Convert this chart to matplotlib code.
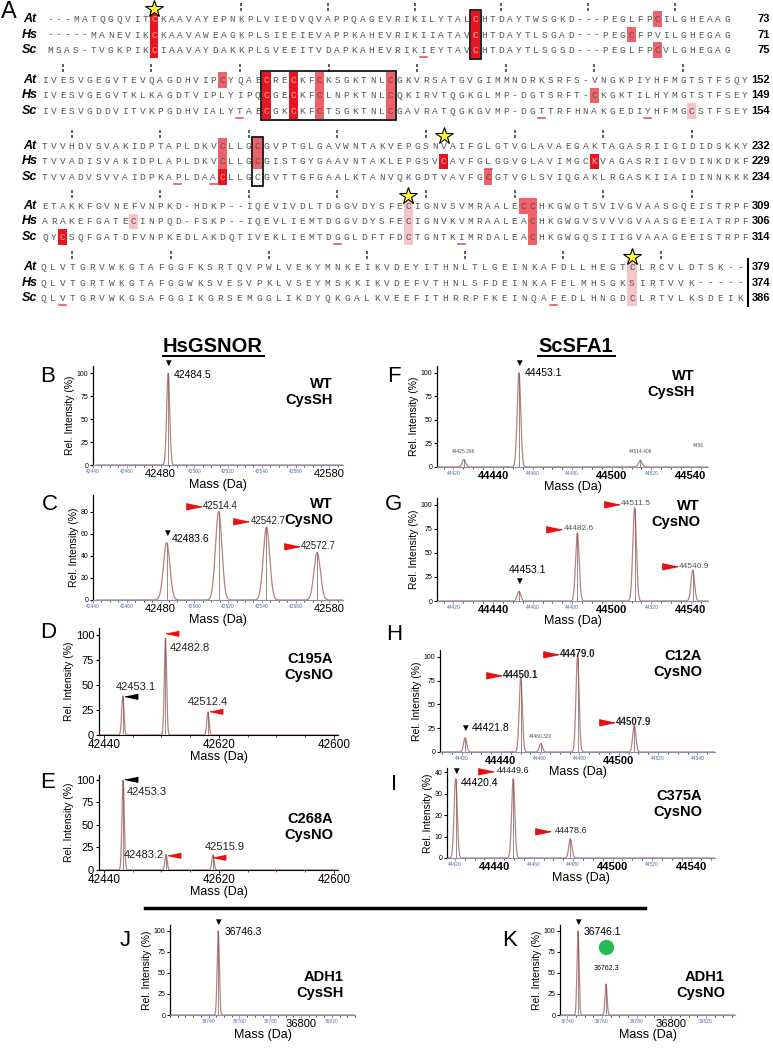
import numpy as np
import matplotlib
matplotlib.use('Agg')
import matplotlib.pyplot as plt
from matplotlib.ticker import MultipleLocator

plt.rcParams['font.family'] = ['Liberation Sans', 'DejaVu Sans']

# ---------------- panel A data: alignment ----------------
species = ['At', 'Hs', 'Sc']
align = [
    ['---MATQGQVITCKAAVAYEPNKPLVIEDVQVAPPQAGEVRIKILYTALCHTDAYTWSGKD---PEGLFPCILGHEAAG',
     '-----MANEVIKCKAAVAWEAGKPLSIEEIEVAPPKAHEVRIKIIATAVCHTDAYTLSGAD---PEGCFPVILGHEGAG',
     'MSAS-TVGKPIKCIAAVAYDAKKPLSVEEITVDAPKAHEVRIKIEYTAVCHTDAYTLSGSD---PEGLFPCVLGHEGAG'],
    ['IVESVGEGVTEVQAGDHVIPCYQAECRECKFCKSGKTNLCGKVRSATGVGIMMNDRKSRFS-VNGKPIYHFMGTSTFSQY',
     'IVESVGEGVTKLKAGDTVIPLYIPQCGECKFCLNPKTNLCQKIRVTQGKGLMP-DGTSRFT-CKGKTILHYMGTSTFSEY',
     'IVESVGDDVITVKPGDHVIALYTAECGKCKFCTSGKTNLCGAVRATQGKGVMP-DGTTRFHNAKGEDIYHFMGCSTFSEY'],
    ['TVVHDVSVAKIDPTAPLDKVCLLGCGVPTGLGAVWNTAKVEPGSNVAIFGLGTVGLAVAEGAKTAGASRIIGIDIDSKKY',
     'TVVADISVAKIDPLAPLDKVCLLGCGISTGYGAAVNTAKLEPGSVCAVFGLGGVGLAVIMGCKVAGASRIIGVDINKDKF',
     'TVVADVSVVAIDPKAPLDAACLLGCGVTTGFGAALKTANVQKGDTVAVFGCGTVGLSVIQGAKLRGASKIIAIDINNKKK'],
    ['ETAKKFGVNEFVNPKD-HDKP--IQEVIVDLTDGGVDYSFECIGNVSVMRAALECCHKGWGTSVIVGVAASGQEISTRPF',
     'ARAKEFGATECINPQD-FSKP--IQEVLIEMTDGGVDYSFECIGNVKVMRAALEACHKGWGVSVVVGVAASGEEIATRPF',
     'QYCSQFGATDFVNPKEDLAKDQTIVEKLIEMTDGGLDFTFDCTGNTKIMRDALEACHKGWGQSIIIGVAAAGEEISTRPF'],
    ['QLVTGRVWKGTAFGGFKSRTQVPWLVEKYMNKEIKVDEYITHNLTLGEINKAFDLLHEGTCLRCVLDTSK--',
     'QLVTGRTWKGTAFGGWKSVESVPKLVSEYMSKKIKVDEFVTHNLSFDEINKAFELMHSGKSIRTVVK-----',
     'QLVTGRVWKGSAFGGIKGRSEMGGLIKDYQKGALKVEEFITHRRPFKEINQAFEDLHNGDCLRTVLKSDEIK'],
]
end_numbers = [[73, 71, 75], [152, 149, 154], [232, 229, 234], [309, 306, 314], [379, 374, 386]]

# (block, row, column, shade 1=light 2=medium 3=dark)
highlights = [
    (0, 0, 12, 3), (0, 1, 12, 3), (0, 2, 12, 3), (0, 0, 49, 3), (0, 1, 49, 3), (0, 2, 49, 3),
    (0, 0, 70, 2), (0, 1, 67, 2), (0, 2, 70, 2),
    (1, 0, 20, 2), (1, 0, 25, 3), (1, 0, 28, 3), (1, 0, 31, 2), (1, 0, 39, 2),
    (1, 1, 25, 3), (1, 1, 28, 3), (1, 1, 31, 2), (1, 1, 39, 2), (1, 1, 62, 2),
    (1, 2, 25, 3), (1, 2, 28, 3), (1, 2, 31, 2), (1, 2, 39, 2), (1, 2, 73, 1),
    (2, 0, 20, 2), (2, 1, 20, 2), (2, 2, 20, 3), (2, 0, 24, 2), (2, 1, 24, 2),
    (2, 1, 45, 3), (2, 1, 62, 3), (2, 2, 50, 2),
    (3, 0, 41, 1), (3, 1, 41, 1), (3, 2, 41, 1), (3, 0, 54, 2), (3, 0, 55, 2),
    (3, 1, 55, 2), (3, 2, 55, 2), (3, 1, 10, 1), (3, 2, 2, 3),
    (4, 0, 60, 1), (4, 1, 60, 1), (4, 2, 60, 1),
]
boxes = [(0, 49, 49), (1, 25, 39), (2, 24, 24)]
stars = [(0, 12), (2, 45), (3, 41), (4, 60)]
underlines = [(0, 2, 43), (1, 2, 22), (1, 2, 56), (1, 2, 68), (2, 1, 50), (2, 2, 15),
              (2, 2, 19), (3, 2, 33), (3, 2, 47), (4, 2, 2), (4, 2, 52)]
tick_start = [12, 2, 3, 3, 3]

# ---------------- mass spectra data ----------------
b_mass, b_int = [42484.5], [100]
c_mass, c_int = [42483.6, 42514.4, 42542.7, 42572.7], [52, 80, 66, 43]
d_mass, d_int = [42453.1, 42482.8, 42512.4], [39, 97, 23]
e_mass, e_int = [42453.3, 42483.2, 42515.9], [100, 17, 17]
f_mass, f_int = [44425.266, 44453.1, 44514.406], [8, 100, 7]
g_mass, g_int = [44453.1, 44482.6, 44511.5, 44540.9], [10, 71, 97, 32]
h_mass, h_int = [44421.8, 44450.1, 44460.320, 44479.0, 44507.9], [15, 78, 9, 100, 28]
i_mass, i_int = [44420.4, 44449.6, 44478.6], [37, 37, 9]
j_mass, j_int = [36746.3], [100]
k_mass, k_int = [36746.1, 36762.3], [100, 37]

W, H = 773, 1050
fig = plt.figure(figsize=(W / 100, H / 100), dpi=100)
ov = fig.add_axes([0, 0, 1, 1], zorder=5)
ov.set_xlim(0, W)
ov.set_ylim(H, 0)
ov.axis('off')
ov.patch.set_alpha(0)

shade = {1: '#f8c3c8', 2: '#f06068', 3: '#e8141e'}
block_y = [19, 80, 146, 206, 267]
row_gap = 15.5
block_x = [(50, 727), (45, 745), (45, 745), (45, 745), (43, 740)]


def colx(b, c):
    x0, x1 = block_x[b]
    n = len(align[b][0])
    return x0 + c * (x1 - x0) / (n - 1)


def cw(b):
    x0, x1 = block_x[b]
    return (x1 - x0) / (len(align[b][0]) - 1)


ov.text(1, 12, 'A', fontsize=17, va='center', ha='left')
dark_cells = set()
for b, r, c, lev in highlights:
    y = block_y[b] + r * row_gap
    ov.add_patch(plt.Rectangle((colx(b, c) - cw(b) / 2, y - row_gap / 2), cw(b), row_gap,
                               color=shade[lev], lw=0, zorder=1))
    if lev == 3:
        dark_cells.add((b, r, c))
for b, c0, c1 in boxes:
    y0 = block_y[b] - row_gap / 2 - 1
    ov.add_patch(plt.Rectangle((colx(b, c0) - cw(b) / 2 - 1, y0), colx(b, c1) - colx(b, c0) + cw(b) + 2,
                               3 * row_gap + 2, fill=False, ec='black', lw=1.2, zorder=3))
for b, block in enumerate(align):
    for r, seq in enumerate(block):
        y = block_y[b] + r * row_gap
        ov.text(30, y, species[r], fontsize=9, fontweight='bold', fontstyle='italic',
                ha='center', va='center')
        for c, ch in enumerate(seq):
            col = '#f4b0b0' if (b, r, c) in dark_cells else '#555555'
            ov.text(colx(b, c), y + 0.5, ch, fontsize=6.8, family='Liberation Mono',
                    ha='center', va='center', color=col, zorder=2)
        ov.text(770, y, str(end_numbers[b][r]), fontsize=8, fontweight='bold',
                ha='right', va='center')
    for c in range(tick_start[b], len(block[0]), 10):
        ov.plot([colx(b, c)] * 2, [block_y[b] - 16, block_y[b] - 7], color='#333333',
                lw=1.1, ls=(0, (2, 1.2)))
for b, c in stars:
    ov.plot(colx(b, c), block_y[b] - 10, marker='*', ms=13, mfc='#ffff33', mec='black',
            mew=0.8, zorder=6)
for b, r, c in underlines:
    y = block_y[b] + r * row_gap + 7
    ov.plot([colx(b, c) - 3.5, colx(b, c) + 3.5], [y, y], color='#e04848', lw=1.1)
ov.plot([748, 748], [block_y[4] - 8, block_y[4] + 2 * row_gap + 8], color='black', lw=1.5)

# ---------------- mass spectra ----------------
ov.text(213, 347, 'HsGSNOR', fontsize=14.5, fontweight='bold', ha='center', va='center')
ov.plot([163, 264], [356, 356], color='black', lw=1.4)
ov.text(576, 347, 'ScSFA1', fontsize=14.5, fontweight='bold', ha='center', va='center')
ov.plot([538, 615], [356, 356], color='black', lw=1.4)
ov.plot([145, 645], [908, 908], color='black', lw=2.5)


def px_axes(left, top, right, bottom):
    return fig.add_axes([left / W, 1 - bottom / H, (right - left) / W, (bottom - top) / H])


def spectrum(ax, mass, inten, sigma, xlim, ylim):
    x = np.linspace(xlim[0], xlim[1], 5000)
    y = np.zeros_like(x)
    for m, h in zip(mass, inten):
        y += h * np.exp(-0.5 * ((x - m) / sigma) ** 2)
    ax.plot(x, y, color='#bb7f7f', lw=0.9)
    ax.vlines(mass, 0, inten, color='#6f5a5a', lw=0.5)
    ax.set_xlim(*xlim)
    ax.set_ylim(*ylim)
    for s in ['top', 'right']:
        ax.spines[s].set_visible(False)
    ax.patch.set_alpha(0)


def style(ax, xticks, big, ylab_fs=7.5, ytick_fs=5, bold=False, blue=True, yticks=None,
          big_fs=8, labels=None):
    ax.set_xticks(xticks)
    ax.set_xticklabels(labels if labels else [str(t) for t in xticks])
    ax.tick_params(axis='x', length=2, width=0.6, pad=1, colors='#8890b0' if blue else 'black')
    ax.tick_params(axis='y', length=2.5, width=0.8, pad=1, labelsize=ytick_fs)
    ax.xaxis.set_minor_locator(MultipleLocator(5))
    ax.tick_params(axis='x', which='minor', length=1.2, width=0.5)
    if blue:
        ax.spines['bottom'].set_color('#8890b0')
    ax.spines['left'].set_linewidth(0.9)
    if yticks is not None:
        ax.set_yticks(yticks)
    ax.set_ylabel('Rel. Intensity (%)', fontsize=ylab_fs, labelpad=1)
    ax.set_xlabel('Mass (Da)', fontsize=9, labelpad=0)
    for t, lab in zip(xticks, ax.get_xticklabels()):
        if t in big:
            lab.set_fontsize(big_fs)
            lab.set_color('black')
            if bold:
                lab.set_fontweight('bold')
        else:
            lab.set_fontsize(3.5)
            lab.set_color('#5868a8')


def down(ax, m, h, dy_tri, text, dx, dy, fs=7.5, ha='left', bold=False):
    ax.annotate('\u25BC', (m, h), xytext=(0, dy_tri * 0.72), textcoords='offset points',
                ha='center', va='center', fontsize=7)
    ax.annotate(text, (m, h), xytext=(dx * 0.72, dy * 0.72), textcoords='offset points',
                ha=ha, va='center', fontsize=fs, fontweight='bold' if bold else 'normal')


flag = [(-1, 0.42), (-1, -0.42), (1, 0)]


def red(ax, m, h, tdx, tdy, text, dx, dy, fs=7, bold=False, point='right', color='#e81010',
        tcol='#222222', ha='left'):
    mk = flag if point == 'right' else [(1, 0.42), (1, -0.42), (-1, 0)]
    ax.annotate(text, (m, h), xytext=(dx * 0.72, dy * 0.72), textcoords='offset points',
                ha=ha, va='center', fontsize=fs, color=tcol,
                fontweight='bold' if bold else 'normal')
    tr = ax.transData + matplotlib.transforms.ScaledTranslation(tdx / 100, tdy / 100,
                                                                fig.dpi_scale_trans)
    ax.plot([m], [h], marker=mk, ms=11 if point == 'right' else 9, color=color, lw=0,
            transform=tr, clip_on=False)


# B
xl = (42442, 42588)
ax = px_axes(93, 366, 343, 465)
spectrum(ax, b_mass, b_int, 0.9, xl, (0, 108))
style(ax, list(range(42440, 42581, 20)), [42480, 42580], yticks=[0, 25, 50, 75, 100])
down(ax, b_mass[0], b_int[0], 10, '42484.5', 6, -2)
# C
ax = px_axes(93, 495, 343, 600)
spectrum(ax, c_mass, c_int, 1.9, xl, (0, 95))
style(ax, list(range(42440, 42581, 20)), [42480, 42580], yticks=[0, 20, 40, 60, 80])
down(ax, c_mass[0], c_int[0], 10, '42483.6', 5, 4)
for m, h in zip(c_mass[1:], c_int[1:]):
    red(ax, m, h, -25, 6, f'{m:.1f}', -16, 6, fs=7)
# D
xl2 = (42436.5, 42603)
ax = px_axes(99, 628, 338, 735)
spectrum(ax, d_mass, d_int, 0.8, xl2, (0, 107))
style(ax, [42440, 42520, 42600], [42440, 42520, 42600], blue=False, ytick_fs=8,
      labels=['42440', '42620', '42600'], big_fs=8.5, yticks=[0, 25, 50, 75, 100])
ax.xaxis.set_minor_locator(MultipleLocator(20))
red(ax, d_mass[0], d_int[0], 8, 0, f'{d_mass[0]:.1f}', 13, 9, fs=8, point='left',
    color='black', ha='center')
red(ax, d_mass[1], d_int[1], 7, 5, f'{d_mass[1]:.1f}', 4, -10, fs=8, point='left')
red(ax, d_mass[2], d_int[2], 8, 1, f'{d_mass[2]:.1f}', 0, 10, fs=8, point='left', ha='center')
# E
ax = px_axes(99, 775, 338, 870)
spectrum(ax, e_mass, e_int, 0.8, xl2, (0, 105.5))
style(ax, [42440, 42520, 42600], [42440, 42520, 42600], blue=False, ytick_fs=8,
      labels=['42440', '42620', '42600'], big_fs=8.5, yticks=[0, 25, 50, 75, 100])
ax.xaxis.set_minor_locator(MultipleLocator(20))
red(ax, e_mass[0], e_int[0], 8, 1, f'{e_mass[0]:.1f}', 4, -12, fs=8, point='left', color='black')
red(ax, e_mass[1], e_int[1], 8, 0, f'{e_mass[1]:.1f}', -2, 0, fs=8, point='left', ha='right')
red(ax, e_mass[2], e_int[2], 6, -2, f'{e_mass[2]:.1f}', -8, 8, fs=8, point='left')

# F
xl3 = (44411.7, 44548.6)
ax = px_axes(437, 366, 708, 467)
spectrum(ax, f_mass, f_int, 0.9, xl3, (0, 107))
style(ax, list(range(44420, 44541, 20)), [44440, 44500, 44540], bold=True,
      yticks=[0, 25, 50, 75, 100])
down(ax, f_mass[1], f_int[1], 10, '44453.1', 6, 0)
for m, h in [(f_mass[0], f_int[0]), (f_mass[2], f_int[2])]:
    ax.annotate(f'{m:.3f}', (m, h), xytext=(0, 5), textcoords='offset points', ha='center',
                fontsize=3.5, color='#555555')
ax.text(0.985, 0.2, '4456', transform=ax.transAxes, fontsize=3.5, color='#555555', ha='right')
# G
ax = px_axes(437, 498, 708, 601)
spectrum(ax, g_mass, g_int, 0.9, xl3, (0, 107))
style(ax, list(range(44420, 44541, 20)), [44440, 44500, 44540], bold=True,
      yticks=[0, 25, 50, 75, 100])
down(ax, g_mass[0], g_int[0], 10, '44453.1', 9, 21, ha='center')
for m, h in zip(g_mass[1:], g_int[1:]):
    red(ax, m, h, -23, 4, f'{m:.1f}', -14, 4, fs=6, tcol='#555555')
# H
xl4 = (44409, 44549)
ax = px_axes(440, 650, 715, 752)
spectrum(ax, h_mass, h_int, 0.8, xl4, (0, 107))
style(ax, list(range(44420, 44541, 20)), [44440, 44500], bold=True,
      yticks=[0, 25, 50, 75, 100])
down(ax, h_mass[0], h_int[0], 10, '44421.8', 7, 10)
ax.annotate('44460.320', (h_mass[2], h_int[2]), xytext=(0, 4), textcoords='offset points',
            ha='center', fontsize=3.5, color='#555555')
for m, h in [(h_mass[1], h_int[1]), (h_mass[3], h_int[3]), (h_mass[4], h_int[4])]:
    red(ax, m, h, -27, 3, f'{m:.1f}', -18, 3, fs=7, bold=True)
# I
ax = px_axes(447, 768, 715, 858)
spectrum(ax, i_mass, i_int, 0.8, (44416, 44552), (0, 42))
style(ax, list(range(44420, 44541, 20)), [44440, 44500, 44540], bold=True,
      yticks=[0, 10, 20, 30, 40])
down(ax, i_mass[0], i_int[0], 8, '44420.4', 5, -4)
red(ax, i_mass[1], i_int[1], -27, 8, f'{i_mass[1]:.1f}', -16, 8, fs=6.5)
red(ax, i_mass[2], i_int[2], -27, 8, f'{i_mass[2]:.1f}', -16, 8, fs=6.5)

# J
ax = px_axes(170, 925, 355, 1015)
spectrum(ax, j_mass, j_int, 0.7, (36715, 36835), (0, 107))
style(ax, list(range(36740, 36821, 20)), [36800], yticks=[0, 25, 50, 75, 100])
down(ax, j_mass[0], j_int[0], 9, '36746.3', 6, -1)
# K
ax = px_axes(560, 925, 735, 1015)
spectrum(ax, k_mass, k_int, 0.6, (36735.7, 36836.8), (0, 107))
style(ax, list(range(36740, 36821, 20)), [36800], yticks=[0, 25, 50, 75, 100])
down(ax, k_mass[0], k_int[0], 9, '36746.1', 6, -1)
ax.annotate('36762.3', (k_mass[1], k_int[1]), xytext=(0, 10), textcoords='offset points',
            ha='center', fontsize=5)
ax.plot([k_mass[1]], [k_int[1]], marker='o', ms=10, color='#22bb55',
        transform=ax.transData + matplotlib.transforms.ScaledTranslation(0, 0.37, fig.dpi_scale_trans))

# panel letters and condition labels
for let, x, y in [('B', 48, 376), ('C', 50, 505), ('D', 48, 633), ('E', 48, 783),
                  ('F', 394, 377), ('G', 394, 505), ('H', 394, 635), ('I', 394, 785),
                  ('J', 125, 940), ('K', 510, 940)]:
    ov.text(x, y, let, fontsize=16, ha='center', va='center')
for txt, x, y in [('WT\nCysSH', 333, 392), ('WT\nCysNO', 333, 512), ('C195A\nCysNO', 333, 667),
                  ('C268A\nCysNO', 333, 827), ('WT\nCysSH', 695, 384), ('WT\nCysNO', 700, 514),
                  ('C12A\nCysNO', 702, 664), ('C375A\nCysNO', 702, 804),
                  ('ADH1\nCysSH', 344, 985), ('ADH1\nCysNO', 725, 985)]:
    ov.text(x, y, txt, fontsize=10.5, fontweight='bold', ha='right', va='center',
            linespacing=1.15)

fig.savefig('out.png', dpi=100)
